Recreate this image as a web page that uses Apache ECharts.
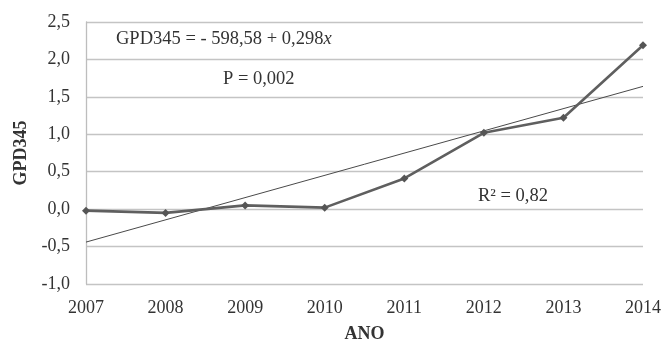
<!DOCTYPE html>
<html>
<head>
<meta charset="utf-8">
<style>
  html, body { margin: 0; padding: 0; background: #fff; }
  #chart { width: 664px; height: 343px; }
</style>
<script src="https://cdn.jsdelivr.net/npm/echarts@6/dist/echarts.min.js"></script>
</head>
<body>
<div id="chart"></div>
<script>
// Years and yearly GPD345 values
const years = [2007, 2008, 2009, 2010, 2011, 2012, 2013, 2014];
const gpd345 = [-0.02, -0.05, 0.05, 0.02, 0.41, 1.02, 1.22, 2.19];

// Fitted trend line endpoints (first and last year)
const trendYears = [2007, 2014];
const trendValues = [-0.44, 1.64];

// Y-axis ticks
const yTicks = [-1.0, -0.5, 0.0, 0.5, 1.0, 1.5, 2.0, 2.5];

const FONT = '"Liberation Serif", "DejaVu Serif", serif';
const TEXT = '#333';

const chart = echarts.init(document.getElementById('chart'), null, { renderer: 'canvas' });

const comma = v => v.toFixed(1).replace('.', ',');

chart.setOption({
  backgroundColor: '#fff',
  animation: false,
  grid: { left: 86, right: 21, top: 22, bottom: 59, containLabel: false, outerBoundsMode: 'none' },
  xAxis: {
    type: 'value',
    min: years[0],
    max: years[years.length - 1],
    interval: 1,
    name: 'ANO',
    nameLocation: 'middle',
    nameGap: 41,
    nameTextStyle: { fontFamily: FONT, fontSize: 18, fontWeight: 'bold', color: TEXT },
    axisLine: { show: false },
    axisTick: { show: false },
    splitLine: { show: false },
    axisLabel: {
      fontFamily: FONT, fontSize: 18, color: TEXT, margin: 15,
      formatter: v => String(v)
    }
  },
  yAxis: {
    type: 'value',
    min: yTicks[0],
    max: yTicks[yTicks.length - 1],
    interval: 0.5,
    name: 'GPD345',
    nameLocation: 'middle',
    nameGap: 54,
    nameTextStyle: { fontFamily: FONT, fontSize: 18, fontWeight: 'bold', color: TEXT },
    axisLine: { show: true, onZero: false, lineStyle: { color: '#bdbdbd', width: 1.3 } },
    axisTick: { show: false },
    splitLine: { show: true, lineStyle: { color: '#c4c4c4', width: 1.4 } },
    axisLabel: {
      fontFamily: FONT, fontSize: 18, color: TEXT, margin: 16,
      formatter: v => comma(v)
    }
  },
  series: [
    {
      name: 'Tendência',
      type: 'line',
      data: trendYears.map((y, i) => [y, trendValues[i]]),
      symbol: 'none',
      lineStyle: { color: '#4a4a4a', width: 1 },
      z: 2
    },
    {
      name: 'GPD345',
      type: 'line',
      data: years.map((y, i) => [y, gpd345[i]]),
      symbol: 'diamond',
      symbolSize: 8,
      itemStyle: { color: '#555' },
      lineStyle: { color: '#5f5f5f', width: 2.6 },
      z: 3
    }
  ],
  graphic: [
    {
      type: 'text', left: 116, top: 30,
      style: {
        text: '{n|GPD345 = - 598,58 + 0,298}{i|x}',
        rich: {
          n: { fontFamily: FONT, fontSize: 18.5, fill: TEXT },
          i: { fontFamily: FONT, fontSize: 18.5, fontStyle: 'italic', fill: TEXT }
        }
      }
    },
    {
      type: 'text', left: 223, top: 70,
      style: { text: 'P = 0,002', fontFamily: FONT, fontSize: 18.5, fill: TEXT }
    },
    {
      type: 'text', left: 478, top: 187,
      style: { text: 'R² = 0,82', fontFamily: FONT, fontSize: 18.5, fill: TEXT }
    }
  ]
});
</script>
</body>
</html>
